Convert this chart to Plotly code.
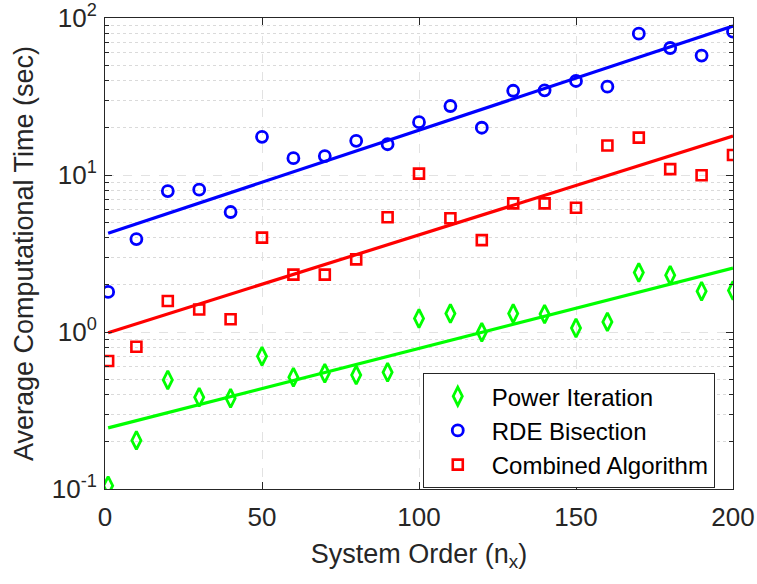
import plotly.graph_objects as go

# ---- data ----
order_x = [1, 10, 20, 30, 40, 50, 60, 70, 80, 90, 100, 110, 120, 130, 140, 150, 160, 170, 180, 190, 200]
power_iteration = [0.105, 0.204, 0.495, 0.384, 0.378, 0.70, 0.515, 0.546, 0.532, 0.554, 1.22,
                   1.31, 0.995, 1.31, 1.30, 1.06, 1.16, 2.39, 2.30, 1.82, 1.84]
rde_bisection = [1.80, 3.91, 7.9, 8.06, 5.81, 17.5, 12.8, 13.2, 16.5, 15.7, 21.7,
                 27.5, 20.0, 34.4, 34.6, 39.7, 36.5, 79.5, 64.4, 57.6, 81.8]
combined_algorithm = [0.653, 0.806, 1.575, 1.39, 1.205, 3.99, 2.32, 2.32, 2.90, 5.38, 10.2,
                      5.3, 3.85, 6.6, 6.6, 6.19, 15.4, 17.3, 10.9, 9.96, 13.4]

fit_x = [1, 200]
power_fit = [0.245, 2.55]
rde_fit = [4.25, 89.0]
combined_fit = [0.99, 17.7]

x_ticks = [0, 50, 100, 150, 200]
y_ticks = [0.1, 1, 10, 100]
y_tick_labels = ["10<sup>-1</sup>", "10<sup>0</sup>", "10<sup>1</sup>", "10<sup>2</sup>"]
y_minor = [m * 10 ** e for e in (-1, 0, 1) for m in range(2, 10)]

GREEN = "#00ff00"
BLUE = "#0000ff"
RED = "#ff0000"
AXC = "#262626"
FONT = "Liberation Sans, Arial, sans-serif"

fig = go.Figure()

fig.add_trace(go.Scatter(x=order_x, y=power_iteration, mode="markers", name="Power Iteration",
                         marker=dict(symbol="diamond-tall-open", size=13, color=GREEN,
                                     line=dict(width=2.8, color=GREEN))))
fig.add_trace(go.Scatter(x=order_x, y=rde_bisection, mode="markers", name="RDE Bisection",
                         marker=dict(symbol="circle-open", size=11, color=BLUE,
                                     line=dict(width=2.8, color=BLUE))))
fig.add_trace(go.Scatter(x=order_x, y=combined_algorithm, mode="markers", name="Combined Algorithm",
                         marker=dict(symbol="square-open", size=10, color=RED,
                                     line=dict(width=2.6, color=RED))))

for yy, c in ((power_fit, GREEN), (rde_fit, BLUE), (combined_fit, RED)):
    fig.add_trace(go.Scatter(x=fit_x, y=yy, mode="lines", showlegend=False,
                             line=dict(color=c, width=3.2), hoverinfo="skip"))

fig.update_layout(
    width=757, height=584,
    margin=dict(l=105, r=24, t=18, b=95),
    paper_bgcolor="white", plot_bgcolor="white",
    font=dict(family=FONT, size=26, color=AXC),
    showlegend=True,
    legend=dict(x=0.506, y=0.246, xanchor="left", yanchor="top",
                bgcolor="white", bordercolor=AXC, borderwidth=1,
                font=dict(family=FONT, size=24, color="black"),
                itemwidth=58, tracegroupgap=0),
    xaxis=dict(range=[0, 200], tickvals=x_ticks, ticks="inside", ticklen=7, tickcolor=AXC,
               showline=True, linecolor=AXC, linewidth=1, mirror="ticks", automargin=False,
               showgrid=True, gridcolor="#e2e2e2", griddash="dash", gridwidth=1,
               zeroline=False, tickfont=dict(size=26, color=AXC), ticklabelstandoff=5,
               title=dict(text="System Order (n<sub>x</sub>)", font=dict(size=27, color=AXC), standoff=12)),
    yaxis=dict(type="log", range=[-1, 2], tickvals=y_ticks, ticktext=y_tick_labels,
               ticks="inside", ticklen=7, tickcolor=AXC, automargin=False,
               showline=True, linecolor=AXC, linewidth=1, mirror="ticks",
               showgrid=True, gridcolor="#e2e2e2", griddash="dash", gridwidth=1,
               zeroline=False, tickfont=dict(size=26, color=AXC), ticklabelstandoff=2,
               minor=dict(tickvals=y_minor, ticks="inside", ticklen=4, tickcolor=AXC,
                          showgrid=True, gridcolor="#dadada", griddash="dot", gridwidth=1),
               title=dict(text="Average Computational Time (sec)", font=dict(size=27, color=AXC), standoff=10)),
)

fig.write_html("out.html", config={"displayModeBar": False},
               post_script="document.body.style.margin='0';")
